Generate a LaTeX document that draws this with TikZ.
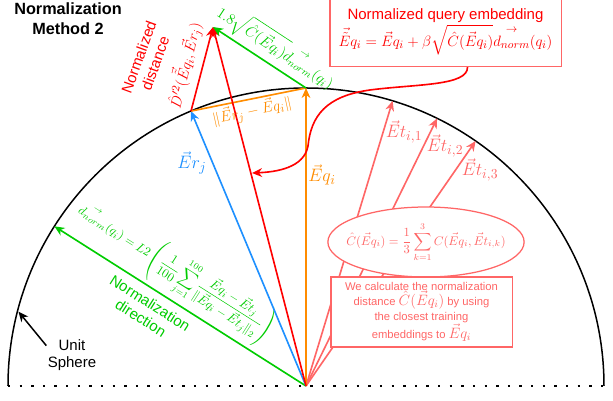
\documentclass[tikz,border=0pt]{standalone}
\usepackage{amsmath,amssymb}
\usepackage[no-math]{fontspec}
\setmainfont{Liberation Sans}
\usepackage{tikz}
\usetikzlibrary{arrows.meta, shapes.geometric, positioning, calc}

\definecolor{vred}{RGB}{255,0,0}
\definecolor{vpink}{RGB}{255,102,102}
\definecolor{vgreen}{RGB}{0,204,0}
\definecolor{vblue}{RGB}{30,144,255}
\definecolor{vorange}{RGB}{255,140,0}

\begin{document}
\begin{tikzpicture}[
    x=0.8pt, y=0.8pt,
    vec/.style={-{Stealth[length=8pt, width=7pt, inset=2.5pt]}, line width=1.3pt},
    sphere/.style={draw=black, line width=1.2pt},
    lbl/.style={font=\fontsize{12}{14}\selectfont, align=center, inner sep=1pt},
    veclbl/.style={font=\fontsize{15}{17}\selectfont, inner sep=1pt},
    mathlbl/.style={font=\fontsize{12}{14}\selectfont, inner sep=1pt},
    note/.style={draw=vpink, fill=white, line width=1pt, align=center,
                 text=vpink, font=\fontsize{9}{12}\selectfont}
]
\useasboundingbox (-306,-15) rectangle (307,386);

%% --- POINTS ON THE UNIT SPHERE ---
\coordinate (O)     at (0,0);
\coordinate (west)  at (-298,0);
\coordinate (east)  at (299,0);
\coordinate (qtip)  at (90:298);
\coordinate (rtip)  at (112.7:298);
\coordinate (qnew)  at (-93,359);
\coordinate (dtip)  at (147.6:298);
\coordinate (t1tip) at (73.1:298);
\coordinate (t2tip) at (63.9:298);
\coordinate (t3tip) at (55.3:298);
\coordinate (stip)  at (165.5:297);

%% --- SPHERE ---
\draw[sphere] (west) arc[start angle=180, end angle=0, radius=298];
\draw[line width=1.9pt, dash pattern=on 1.9pt off 7.4pt] (west) -- (east);

%% --- TRAINING EMBEDDINGS ---
\foreach \t in {t1tip, t2tip, t3tip}
    \draw[vec, vpink] (O) -- (\t);
\node[veclbl, text=vpink] (t1lbl) at (98,254)  {$\vec{E}t_{i,1}$};
\node[veclbl, text=vpink] (t2lbl) at (139,240) {$\vec{E}t_{i,2}$};
\node[veclbl, text=vpink] (t3lbl) at (174,216) {$\vec{E}t_{i,3}$};

\node[note, ellipse, minimum width=157pt, minimum height=56pt,
      font=\fontsize{10}{12}\selectfont] (avg) at (120,144)
    {\makebox[0pt]{$\displaystyle \hat{C}(\vec{E}q_i)=\frac{1}{3}\sum_{k=1}^{3}C(\vec{E}q_i,\vec{E}t_{i,k})$}};
\node[note, rectangle, minimum width=145pt, minimum height=56pt, inner sep=2pt]
    (explain) at (115.5,74)
    {We calculate the normalization\\
     distance {\fontsize{12}{12}\selectfont$\hat{C}(\vec{E}q_i)$} by using\\
     the closest training\\
     embeddings to {\fontsize{12}{12}\selectfont$\vec{E}q_i$}};

%% --- NORMALIZATION DIRECTION ---
\draw[vec, vgreen] (O) -- (dtip);
\node[lbl, text=vgreen, rotate=-32.4] (dirlbl) at (-160.5,75.5)
    {Normalization\\direction};
\node[mathlbl, text=vgreen, rotate=-32.4, font=\fontsize{10}{12}\selectfont]
    (dform) at (-131,115)
    {$\overset{\rightarrow}{d_{norm}}(q_i)=L2\left(\displaystyle\frac{1}{100}\sum_{j=1}^{100}
      \frac{\vec{E}q_i-\vec{E}t_j}{\|\vec{E}q_i-\vec{E}t_j\|_2}\right)$};

%% --- QUERY AND REFERENCE ---
\draw[vec, vblue] (O) -- (rtip);
\node[veclbl, text=vblue] (rlbl) at (-114,223) {$\vec{E}r_j$};
\draw[vec, vorange] (O) -- (qtip);
\node[veclbl, text=vorange] (qlbl) at (16,211) {$\vec{E}q_i$};
\draw[vorange, line width=1.3pt] (rtip) -- (qtip);
\node[mathlbl, text=vorange, rotate=12.4, font=\fontsize{13}{15}\selectfont]
    (normlbl) at (-54,275) {$\|\vec{E}r_j-\vec{E}q_i\|$};

%% --- NORMALIZED QUERY ---
\draw[vec, vred] (O) -- (qnew);
\draw[vec, vred] (rtip) -- (qnew);
\draw[vec, vgreen] (qtip) -- (qnew);
\node[mathlbl, text=vgreen, rotate=-33.3] (shiftlbl) at (-30,339)
    {$1.8\sqrt{\hat{C}(\vec{E}q_i)}\overset{\rightarrow}{d_{norm}}(q_i)$};
\node[mathlbl, text=vred, rotate=76.3, font=\fontsize{13}{15}\selectfont]
    (dlbl) at (-122,321) {$\hat{D}'^{2}(\vec{\tilde{E}}q_i,\vec{E}r_j)$};
\node[lbl, text=vred, rotate=70] (distlbl) at (-159,326) {Normalized\\distance};

\node[draw=vpink, fill=white, line width=1pt, align=center, text=vred,
      font=\fontsize{12}{14}\selectfont, minimum width=185pt, minimum height=56pt]
    (qbox) at (139.5,354.5)
    {Normalized query embedding\\[1pt]
     {\fontsize{13}{15}\selectfont$\vec{\tilde{E}}q_i=\vec{E}q_i+\beta\sqrt{\hat{C}(\vec{E}q_i)}\overset{\rightarrow}{d_{norm}}(q_i)$}};
\draw[vec, vred] ($(qbox.south)+(22,0)$) .. controls (162,300) and (110,302) .. (64,296)
    .. controls (20,290) and (5,270) .. (2,240)
    .. controls (-2,218) and (-30,214) .. (-54,213);

%% --- TITLE AND SPHERE LABEL ---
\node[font=\bfseries\fontsize{13}{16}\selectfont, align=center] (title) at (-238,367)
    {Normalization\\Method 2};
\node[lbl] (unitlbl) at (-234,31) {Unit\\Sphere};
\draw[vec, black, line width=1.2pt] (unitlbl.160) -- (stip);

\end{tikzpicture}
\end{document}
